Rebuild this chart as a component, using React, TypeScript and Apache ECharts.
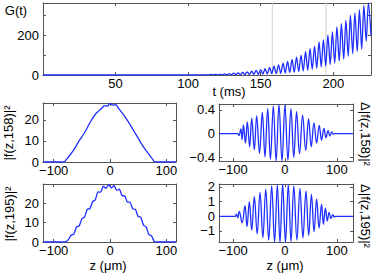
import React, { useEffect, useRef } from 'react';
import * as echarts from 'echarts';

// ---------- Data ----------
// G(t): extrema of the oscillating growth curve
const gTimes = [
  0, 93, 94.3, 95.8, 97.4, 98.9, 100.5, 102.0, 103.6, 105.1, 106.7, 108.2, 109.8, 111.3,
  112.8, 114.3, 115.9, 117.4, 119.0, 120.5, 122.1, 123.6, 125.2, 126.7, 128.3, 129.8,
  131.4, 132.9, 134.5, 136.0, 137.6, 139.1, 140.7, 142.2, 143.8, 145.3, 146.9, 148.4,
  150.0, 151.5, 153.0, 154.5, 156.1, 157.6, 159.2, 160.7, 162.3, 163.8, 165.4, 166.9,
  168.5, 170.0, 171.6, 173.1, 174.7, 176.2, 177.8, 179.3, 180.9, 182.4, 184.0, 185.5,
  187.1, 188.6, 190.2, 191.7, 193.2, 194.8, 196.3, 197.9, 199.4, 201.0, 202.5, 204.1,
  205.6, 207.2, 208.7, 210.3, 211.8, 213.4, 214.9, 216.5, 218.0, 219.6, 221.1, 222.7,
  224.2, 226,
];
const gValues = [
  0, 0, 0.15, 0, 0.3, 0.02, 0.5, 0.05, 0.8, 0.1, 1.1, 0.15, 1.5, 0.2,
  2, 0.3, 2.7, 0.4, 3.5, 0.5, 4.5, 0.6, 5.5, 0.8, 7, 1,
  9, 1.3, 11, 1.6, 13, 2, 16, 2.5, 19, 3, 23, 3.5,
  27, 4, 32, 5, 38, 6, 44, 7, 51, 8, 59, 10,
  68, 12, 78, 14, 90, 17, 100, 20, 117, 24, 133, 28,
  145, 34, 167, 40, 178, 45, 200, 52, 217, 60, 242, 70,
  258, 80, 275, 95, 300, 108, 312, 118, 328, 130, 350, 170,
  362, 200,
];
const markerTimes = [158, 195];

// |f(z,158)|^2
const zF158 = [-119, -82, -75, -65, -55, -45, -35, -25, -15, -10, -5, 0, 5, 10, 15, 25, 35, 45, 55, 65, 75, 80, 117];
const vF158 = [0, 0, 2, 5.5, 10, 14, 19, 23, 25.5, 26.8, 26.5, 27.8, 27, 27.3, 25.5, 22, 18, 13.5, 9, 5, 1.5, 0, 0];

// |f(z,195)|^2
const zF195 = [
  -119, -80, -74, -69, -64.3, -59.5, -54.8, -50, -45.3, -40.5, -35.8, -31, -26.3, -21.5,
  -16.8, -12, -7.3, -2.5, 2.3, 7, 11.8, 16.5, 21.3, 26, 30.8, 35.5, 40.3, 45, 49.8, 54.5,
  59.3, 64, 68.8, 73.5, 78, 81, 117,
];
const vF195 = [
  0, 0, 1.2, 3.5, 4.05, 7.8, 8.3, 12, 12.8, 16.8, 17.2, 20.8, 21.7, 25.8,
  25.7, 28.8, 27.6, 29.6, 27.8, 29.2, 26.6, 27.2, 23.9, 23.8, 20.6, 20.5, 17.1, 16.8, 13.2, 12.8,
  8.7, 7.8, 3.9, 3.2, 0.5, 0, 0,
];

// Δ|f(z,158)|^2
const zD158 = [
  -127, -91, -88.5, -85, -82.5, -80, -76, -72.5, -68, -64, -59, -54.5, -49, -43.6, -38.5,
  -33.3, -28, -22.4, -17, -11.5, -5.7, 0, 5.7, 11.5, 17, 22.4, 28, 34, 40, 45.5, 50.6,
  55.8, 61, 66, 70.5, 75, 79, 83, 86.5, 90, 93, 95, 131,
];
const vD158 = [
  0, 0, -0.03, 0.08, -0.1, 0.15, -0.16, 0.2, -0.22, 0.26, -0.27, 0.3, -0.33, 0.36, -0.39,
  0.42, -0.43, 0.47, -0.46, 0.49, -0.46, 0.48, -0.45, 0.42, -0.4, 0.37, -0.34, 0.31, -0.28, 0.25, -0.22,
  0.18, -0.16, 0.14, -0.11, 0.09, -0.07, 0.05, -0.04, 0.03, -0.01, 0, 0,
];

// Δ|f(z,195)|^2
const zD195 = [
  -127, -96, -93.5, -91, -88, -82.5, -77, -73, -68.6, -64, -59, -53.5, -48, -42.5, -37,
  -31.3, -25.6, -20, -14.7, -9.6, -4.5, 1, 6.4, 11.7, 17, 23, 28.8, 34.6, 40.4, 45.7, 51,
  56, 61, 65.7, 70.5, 74, 78, 81.5, 85, 88.5, 92, 95, 97, 131,
];
const vD195 = [
  0, 0, 0.15, -0.1, 0.34, -0.45, 0.72, -0.7, 1.0, -0.95, 1.33, -1.2, 1.62, -1.45, 1.85,
  -1.62, 2.07, -1.75, 2.14, -1.78, 2.2, -1.78, 2.16, -1.72, 2.07, -1.62, 1.9, -1.48, 1.73, -1.3, 1.5,
  -1.05, 1.17, -0.8, 0.83, -0.55, 0.56, -0.32, 0.27, -0.15, 0.11, -0.05, 0, 0,
];

// Tick values
const gXTicks = [50, 100, 150, 200];
const gYTicks = [0, 100, 200, 300];
const gYLabels = [0, 200];
const zTicks = [-100, 0, 100];
const fYTicks = [0, 10, 20];
const d158YTicks = [-0.4, 0, 0.4];
const d195YTicks = [-1, 0, 1, 2];

const FONT = '"Liberation Sans", Arial, Helvetica, sans-serif';
const FS = 13;
const AX = '#555';
const BLUE = '#1f2fff';

const fmt = (v: number) => (v < 0 ? '\u2212' + Math.abs(v) : String(v));
const zip = (a: number[], b: number[]) => a.map((x, i) => [x, b[i]]);

function axisPair(kind: 'x' | 'y', gridIndex: number, min: number, max: number, ticks: number[], labels: number[]) {
  const base = (pos: string, showLabel: boolean) => ({
    type: 'value',
    gridIndex,
    position: pos,
    min,
    max,
    axisLine: { show: true, onZero: false, lineStyle: { color: AX, width: 1 } },
    axisTick: { show: true, inside: true, length: 3, customValues: ticks, lineStyle: { color: AX, width: 1 } },
    axisLabel: {
      show: showLabel,
      customValues: labels,
      color: '#000',
      fontSize: FS,
      fontFamily: FONT,
      margin: kind === 'x' ? 2 : 4,
      formatter: fmt,
    },
    splitLine: { show: false },
  });
  return kind === 'x' ? [base('bottom', true), base('top', false)] : [base('left', true), base('right', false)];
}

export default function App() {
  const ref = useRef<HTMLDivElement>(null);
  useEffect(() => {
    const chart = echarts.init(ref.current!, null, { renderer: 'svg' });
    const grids = [
      { left: 43, top: 3, width: 328, height: 72 },
      { left: 43, top: 103, width: 133, height: 59 },
      { left: 219, top: 104, width: 134, height: 57 },
      { left: 43, top: 184, width: 133, height: 58 },
      { left: 219, top: 184, width: 134, height: 58 },
    ];
    const xAxis = [
      ...axisPair('x', 0, 0, 226, gXTicks, gXTicks),
      ...axisPair('x', 1, -119, 117, zTicks, zTicks),
      ...axisPair('x', 2, -127, 131, zTicks, zTicks),
      ...axisPair('x', 3, -119, 117, zTicks, zTicks),
      ...axisPair('x', 4, -127, 131, zTicks, zTicks),
    ];
    const yAxis = [
      ...axisPair('y', 0, 0, 362, gYTicks, gYLabels),
      ...axisPair('y', 1, 0, 28, fYTicks, fYTicks),
      ...axisPair('y', 2, -0.46, 0.5, d158YTicks, d158YTicks),
      ...axisPair('y', 3, 0, 29.9, fYTicks, fYTicks),
      ...axisPair('y', 4, -1.75, 2.2, d195YTicks, d195YTicks),
    ];
    const lineSeries = (i: number, data: number[][], smooth: number | boolean) => ({
      type: 'line',
      xAxisIndex: 2 * i,
      yAxisIndex: 2 * i,
      data,
      symbol: 'none',
      showSymbol: false,
      smooth,
      lineStyle: { color: BLUE, width: 1.3 },
      z: 3,
      silent: true,
    });
    const markers = markerTimes.map((t) => ({
      type: 'line',
      xAxisIndex: 0,
      yAxisIndex: 0,
      data: [
        [t, 0],
        [t, 362],
      ],
      symbol: 'none',
      lineStyle: { color: '#cfcfcf', width: 1 },
      z: 1,
      silent: true,
    }));
    const txt = (text: string, x: number, y: number, rotation = 0) => ({
      type: 'text',
      x,
      y,
      rotation,
      style: {
        text,
        fill: '#000',
        font: `${FS}px ${FONT}`,
        align: 'center',
        verticalAlign: 'middle',
      },
      z: 10,
    });
    chart.setOption({
      animation: false,
      backgroundColor: '#fff',
      grid: grids,
      xAxis,
      yAxis,
      series: [
        ...markers,
        lineSeries(0, zip(gTimes, gValues), 0.3),
        lineSeries(1, zip(zF158, vF158), 0.2),
        lineSeries(2, zip(zD158, vD158), 0.4),
        lineSeries(3, zip(zF195, vF195), 0.2),
        lineSeries(4, zip(zD195, vD195), 0.4),
      ],
      graphic: [
        txt('G(t)', 16, 10),
        txt('t (ms)', 229, 91),
        txt('z (\u03bcm)', 108, 265),
        txt('z (\u03bcm)', 285, 265),
        txt('|f(z,158)|\u00b2', 8, 133, Math.PI / 2),
        txt('|f(z,195)|\u00b2', 9, 214, Math.PI / 2),
        txt('\u0394|f(z,158)|\u00b2', 365, 134, -Math.PI / 2),
        txt('\u0394|f(z,195)|\u00b2', 365, 216, -Math.PI / 2),
      ],
    });
    return () => chart.dispose();
  }, []);
  return (
    <div
      ref={ref}
      style={{ position: 'fixed', left: 0, top: 0, width: 382, height: 273, background: '#fff' }}
    />
  );
}
